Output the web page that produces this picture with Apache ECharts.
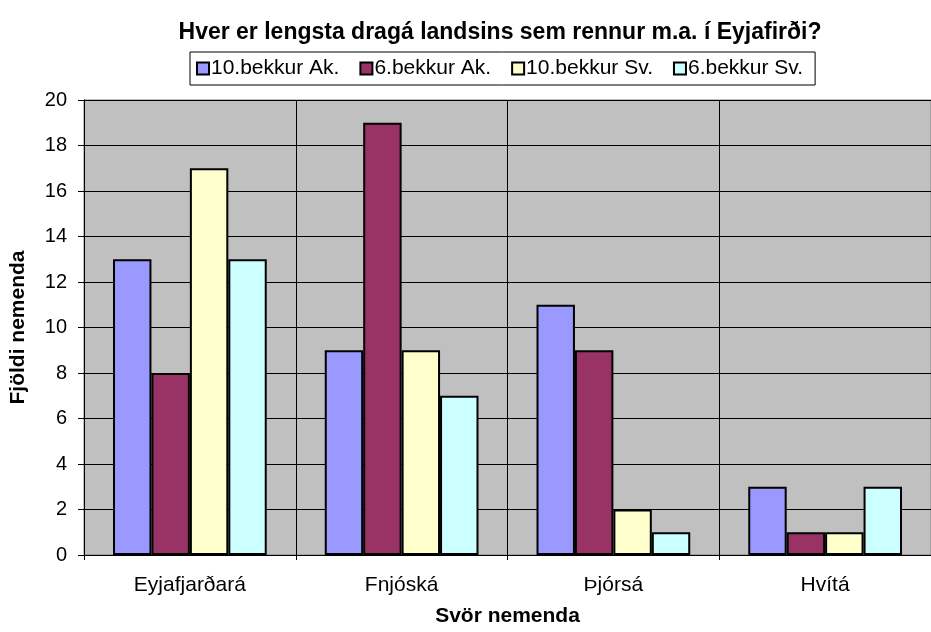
<!DOCTYPE html>
<html>
<head>
<meta charset="utf-8">
<script src="https://cdn.jsdelivr.net/npm/echarts@6/dist/echarts.min.js"></script>
<style>
  html, body { margin: 0; padding: 0; background: #fff; }
  #chart { width: 931px; height: 632px; }
</style>
</head>
<body>
<div id="chart"></div>
<script>
// river answers
const categories = ["Eyjafjarðará", "Fnjóská", "Þjórsá", "Hvítá"];
const seriesNames = ["10.bekkur Ak.", "6.bekkur Ak.", "10.bekkur Sv.", "6.bekkur Sv."];
const tenthAk = [13, 9, 11, 3];
const sixthAk = [8, 19, 9, 1];
const tenthSv = [17, 9, 2, 1];
const sixthSv = [13, 7, 1, 3];
const colors = ["#9999FF", "#993366", "#FFFFCC", "#CCFFFF"];

const font = "Arial, 'Liberation Sans', sans-serif";
const values = [tenthAk, sixthAk, tenthSv, sixthSv];

const chart = echarts.init(document.getElementById("chart"));
chart.setOption({
  animation: false,
  backgroundColor: "#fff",
  color: colors,
  title: {
    text: "Hver er lengsta dragá landsins sem rennur m.a. í Eyjafirði?",
    left: 495,
    top: 16,
    textAlign: "center",
    textStyle: { fontFamily: font, fontSize: 23, fontWeight: "bold", color: "#000" },
  },
  legend: {
    data: seriesNames,
    left: 190,
    top: 52,
    padding: [6, 12, 6, 6],
    borderColor: "#000",
    borderWidth: 1,
    itemGap: 20,
    itemWidth: 12,
    itemHeight: 12,
    icon: "rect",
    itemStyle: { borderColor: "#000", borderWidth: 2 },
    textStyle: { fontFamily: font, fontSize: 21, color: "#000", padding: [0, 0, 0, -3] },
  },
  grid: {
    left: 84,
    top: 100,
    width: 860,
    height: 457,
    show: true,
    backgroundColor: "#C0C0C0",
    borderColor: "#808080",
    borderWidth: 1,
  },
  xAxis: {
    type: "category",
    data: categories,
    name: "Svör nemenda",
    nameLocation: "middle",
    nameGap: 51,
    nameTextStyle: { fontFamily: font, fontSize: 21, fontWeight: "bold", color: "#000" },
    axisLine: { lineStyle: { color: "#000", width: 1 } },
    axisTick: { show: true, length: 5, lineStyle: { color: "#000" } },
    axisLabel: { fontFamily: font, fontSize: 21, color: "#000", margin: 20 },
    splitLine: { show: true, lineStyle: { color: "#000", width: 1 } },
  },
  yAxis: {
    type: "value",
    min: 0,
    max: 20,
    interval: 2,
    name: "Fjöldi nemenda",
    nameLocation: "middle",
    nameGap: 55,
    nameTextStyle: { fontFamily: font, fontSize: 21, fontWeight: "bold", color: "#000" },
    axisLine: { show: true, lineStyle: { color: "#000", width: 1 } },
    axisTick: { show: true, length: 6, lineStyle: { color: "#000" } },
    axisLabel: { fontFamily: font, fontSize: 20, color: "#000", margin: 17 },
    splitLine: { show: true, lineStyle: { color: "#000", width: 1 } },
  },
  series: seriesNames.map((name, i) => ({
    name,
    type: "bar",
    data: values[i],
    barGap: "0%",
    barCategoryGap: "27.4%",
    itemStyle: { color: colors[i], borderColor: "#000", borderWidth: 2 },
  })),
});
</script>
</body>
</html>
